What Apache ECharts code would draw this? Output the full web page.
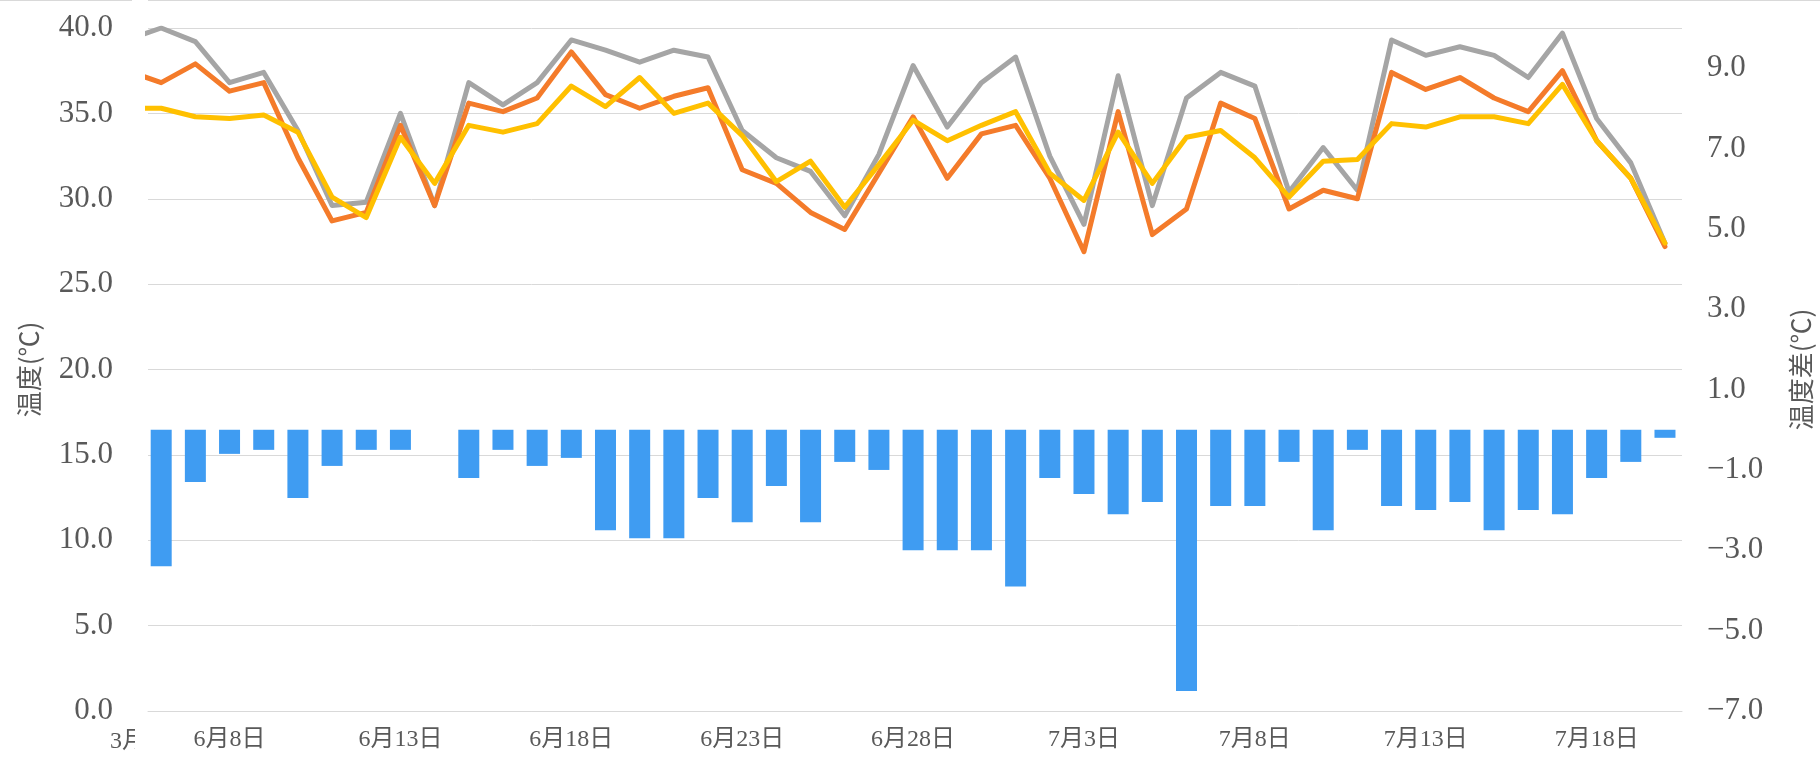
<!DOCTYPE html>
<html>
<head>
<meta charset="utf-8">
<title>温度</title>
<script src="https://cdn.jsdelivr.net/npm/echarts@6/dist/echarts.min.js"></script>
<style>
  html, body { margin: 0; padding: 0; background: #fff; }
  #tempChart { width: 1820px; height: 758px; }
</style>
</head>
<body>
<div id="tempChart"></div>
<script>
// 6月5日 only feeds the short line stub that is cut off at the left edge
const dates = [
  '6月5日', '6月6日', '6月7日', '6月8日', '6月9日', '6月10日', '6月11日', '6月12日',
  '6月13日', '6月14日', '6月15日', '6月16日', '6月17日', '6月18日', '6月19日', '6月20日',
  '6月21日', '6月22日', '6月23日', '6月24日', '6月25日', '6月26日', '6月27日', '6月28日',
  '6月29日', '6月30日', '7月1日', '7月2日', '7月3日', '7月4日', '7月5日', '7月6日',
  '7月7日', '7月8日', '7月9日', '7月10日', '7月11日', '7月12日', '7月13日', '7月14日',
  '7月15日', '7月16日', '7月17日', '7月18日', '7月19日', '7月20日'
];
// gray line
const maxTemp = [
  39.3, 40.0, 39.2, 36.8, 37.4, 34.0, 29.6, 29.8, 35.0, 29.6, 36.8, 35.5, 36.8, 39.3, 38.7, 38.0,
  38.7, 38.3, 34.0, 32.4, 31.6, 29.0, 32.6, 37.8, 34.2, 36.8, 38.3, 32.5, 28.5, 37.2, 29.6, 35.9,
  37.4, 36.6, 30.4, 33.0, 30.5, 39.3, 38.4, 38.9, 38.4, 37.1, 39.7, 34.7, 32.1, 27.4
];
// orange line
const midTemp = [
  37.5, 36.8, 37.9, 36.3, 36.8, 32.4, 28.7, 29.2, 34.3, 29.6, 35.6, 35.1, 35.9, 38.6, 36.1, 35.3,
  36.0, 36.5, 31.7, 30.9, 29.2, 28.2, 31.5, 34.8, 31.2, 33.8, 34.3, 31.2, 26.9, 35.1, 27.9, 29.4,
  35.6, 34.7, 29.4, 30.5, 30.0, 37.4, 36.4, 37.1, 35.9, 35.1, 37.5, 33.4, 31.2, 27.2
];
// yellow line
const avgTemp = [
  35.3, 35.3, 34.8, 34.7, 34.9, 33.9, 30.1, 28.9, 33.6, 30.9, 34.3, 33.9, 34.4, 36.6, 35.4, 37.1,
  35.0, 35.6, 33.7, 31.0, 32.2, 29.5, 32.0, 34.6, 33.4, 34.3, 35.1, 31.5, 29.9, 33.9, 30.9, 33.6,
  34.0, 32.4, 30.1, 32.2, 32.3, 34.4, 34.2, 34.8, 34.8, 34.4, 36.7, 33.4, 31.2, 27.4
];
// blue bars, right axis
const tempDiff = [
  null, -3.4, -1.3, -0.6, -0.5, -1.7, -0.9, -0.5, -0.5, 0, -1.2, -0.5, -0.9, -0.7, -2.5, -2.7,
  -2.7, -1.7, -2.3, -1.4, -2.3, -0.8, -1.0, -3.0, -3.0, -3.0, -3.9, -1.2, -1.6, -2.1, -1.8, -6.5,
  -1.9, -1.9, -0.8, -2.5, -0.5, -1.9, -2.0, -1.8, -2.5, -2.0, -2.1, -1.2, -0.8, -0.2
];
const labelDays = ['6月8日', '6月13日', '6月18日', '6月23日', '6月28日', '7月3日', '7月8日', '7月13日', '7月18日'];

const textColor = '#595959';
const gridColor = '#d9d9d9';
const numFont = 'Liberation Serif, Noto Sans CJK SC, serif';

const toPoints = arr => arr.map((v, i) => [i, v]);

const chart = echarts.init(document.getElementById('tempChart'));

function lineSeries(name, data, color) {
  return {
    name: name,
    type: 'line',
    yAxisIndex: 0,
    data: toPoints(data),
    symbol: 'none',
    lineStyle: { color: color, width: 5, cap: 'round', join: 'round' },
    itemStyle: { color: color }
  };
}

const option = {
  animation: false,
  backgroundColor: '#fff',
  grid: { left: 148, right: 138, top: 28, bottom: 47, outerBoundsMode: 'none' },
  xAxis: {
    type: 'value',
    min: 0.614,
    max: 45.498,
    axisLine: { show: true, onZero: false, lineStyle: { color: gridColor, width: 1 } },
    axisTick: { show: false },
    splitLine: { show: false },
    axisLabel: {
      customValues: labelDays.map(d => dates.indexOf(d)),
      formatter: v => dates[Math.round(v)],
      color: textColor,
      fontSize: 24,
      fontFamily: numFont,
      margin: 17
    }
  },
  yAxis: [
    {
      type: 'value',
      min: 0,
      max: 40,
      interval: 5,
      name: '温度(℃)',
      nameLocation: 'middle',
      nameRotate: 90,
      nameGap: 106,
      nameTextStyle: { color: textColor, fontSize: 26, fontFamily: 'Noto Sans CJK SC' },
      axisLine: { show: false },
      axisTick: { show: false },
      axisLabel: {
        formatter: v => v.toFixed(1),
        color: textColor,
        fontSize: 31,
        fontFamily: numFont,
        margin: 35
      },
      splitLine: { lineStyle: { color: gridColor, width: 1 } }
    },
    {
      type: 'value',
      position: 'right',
      min: -7,
      max: 10,
      interval: 2,
      name: '温度差(℃)',
      nameLocation: 'middle',
      nameRotate: 90,
      nameGap: 106,
      nameTextStyle: { color: textColor, fontSize: 26, fontFamily: 'Noto Sans CJK SC' },
      axisLine: { show: false },
      axisTick: { show: false },
      axisLabel: {
        showMaxLabel: false,
        formatter: v => v.toFixed(1).replace('-', '\u2212'),
        color: textColor,
        fontSize: 31,
        fontFamily: numFont,
        align: 'left',
        margin: 25
      },
      splitLine: { show: false }
    }
  ],
  graphic: [
    // thin frame line along the very top
    { type: 'line', shape: { x1: 0, y1: 0.5, x2: 132, y2: 0.5 }, style: { stroke: gridColor, lineWidth: 1 } },
    { type: 'line', shape: { x1: 148, y1: 0.5, x2: 1820, y2: 0.5 }, style: { stroke: gridColor, lineWidth: 1 } },
    // leftover fragment of a clipped date label
    { type: 'text', x: 110, y: 730, style: { text: '3月', font: '24px Liberation Serif, Noto Sans CJK SC', fill: textColor } },
    { type: 'rect', shape: { x: 135, y: 722, width: 12, height: 36 }, style: { fill: '#fff' } }
  ],
  series: [
    {
      name: '温度差',
      type: 'bar',
      yAxisIndex: 1,
      barWidth: 21,
      data: toPoints(tempDiff),
      itemStyle: { color: '#3f9cf2', borderWidth: 0 }
    },
    lineSeries('最高温度', maxTemp, '#a5a5a5'),
    lineSeries('温度', midTemp, '#f47b2a'),
    lineSeries('平均温度', avgTemp, '#ffc000')
  ]
};

chart.setOption(option);
</script>
</body>
</html>
